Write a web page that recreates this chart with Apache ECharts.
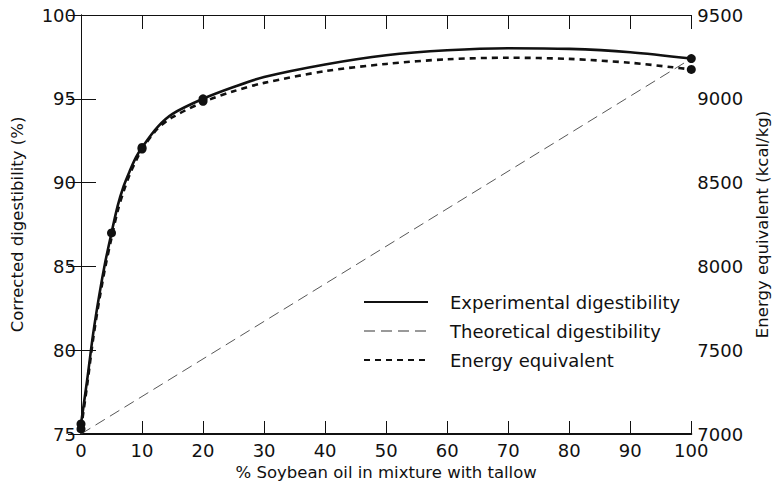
<!DOCTYPE html>
<html>
<head>
<meta charset="utf-8">
<script src="https://cdn.jsdelivr.net/npm/echarts@6/dist/echarts.min.js"></script>
<style>
  html, body { margin: 0; padding: 0; background: #fff; }
  #chart { width: 779px; height: 494px; }
</style>
</head>
<body>
<div id="chart"></div>
<script>
// soybean oil share (%) and curve values
var expX = [0, 1, 2, 3, 4, 5, 6, 7, 8, 9, 10, 12.5, 15, 20, 25, 30, 40, 50, 60, 70, 80, 90, 100];
var expY = [75.6, 78.2, 81.0, 83.3, 85.3, 87.0, 88.6, 89.8, 90.7, 91.5, 92.1, 93.3, 94.1, 95.0, 95.7, 96.3, 97.05, 97.6, 97.9, 98.02, 97.98, 97.78, 97.4];
var expPtsX = [0, 5, 10, 20, 100];
var expPtsY = [75.6, 87.0, 92.1, 95.0, 97.4];

var theoX = [0, 100];
var theoY = [75.0, 97.4];

var enX = [0, 1, 2, 3, 4, 5, 6, 7, 8, 9, 10, 12.5, 15, 20, 25, 30, 40, 50, 60, 70, 80, 90, 97, 100];
var enY = [7030, 7290, 7570, 7800, 8000, 8170, 8330, 8450, 8550, 8630, 8700, 8820, 8890, 8980, 9045, 9095, 9165, 9208, 9236, 9245, 9238, 9215, 9188, 9175];
var enPtsX = [0, 10, 20, 100];
var enPtsY = [7030, 8700, 8985, 9175];

var names = ['Experimental digestibility', 'Theoretical digestibility', 'Energy equivalent'];

function pairs(xs, ys) {
  return xs.map(function(x, i) { return [x, ys[i]]; });
}

var font = 'DejaVu Sans';
var ink = '#111';

var chart = echarts.init(document.getElementById('chart'), null, { renderer: 'svg' });
chart.setOption({
  animation: false,
  textStyle: { fontFamily: font, color: ink },
  grid: { left: 81, right: 83, top: 15, bottom: 60 },
  legend: {
    orient: 'vertical',
    left: 358,
    top: 288,
    itemWidth: 64,
    itemHeight: 14,
    itemGap: 11,
    itemStyle: { opacity: 0 },
    data: [
      { name: names[0] },
      { name: names[1], lineStyle: { color: '#999' } },
      { name: names[2] }
    ],
    textStyle: { fontFamily: font, fontSize: 18, color: ink, padding: [0, 0, 0, 17] }
  },
  xAxis: [
    {
      type: 'value', min: 0, max: 100, interval: 10,
      name: '% Soybean oil in mixture with tallow',
      nameLocation: 'middle', nameGap: 29,
      nameTextStyle: { fontFamily: font, fontSize: 16.5, color: ink },
      axisLine: { lineStyle: { color: ink, width: 2 } },
      axisTick: { inside: true, length: 13, lineStyle: { color: ink, width: 1 } },
      axisLabel: { fontFamily: font, fontSize: 18, color: ink, margin: 7, showMinLabel: true, showMaxLabel: true },
      splitLine: { show: false }
    },
    {
      type: 'value', position: 'top', min: 0, max: 100, interval: 10,
      axisLine: { lineStyle: { color: ink, width: 1 } },
      axisTick: { inside: true, length: 14, lineStyle: { color: ink, width: 1 } },
      axisLabel: { show: false },
      splitLine: { show: false }
    }
  ],
  yAxis: [
    {
      type: 'value', min: 75, max: 100, interval: 5,
      name: 'Corrected digestibility (%)',
      nameLocation: 'middle', nameGap: 55, nameRotate: 90,
      nameTextStyle: { fontFamily: font, fontSize: 16.5, color: ink },
      axisLine: { show: true, lineStyle: { color: ink, width: 1 } },
      axisTick: { show: true, inside: true, length: 15, lineStyle: { color: ink, width: 1 } },
      axisLabel: { fontFamily: font, fontSize: 18, color: ink, margin: 5 },
      splitLine: { show: false }
    },
    {
      type: 'value', position: 'right', min: 7000, max: 9500, interval: 500,
      name: 'Energy equivalent (kcal/kg)',
      nameLocation: 'middle', nameGap: 61, nameRotate: 90,
      nameTextStyle: { fontFamily: font, fontSize: 16.5, color: ink },
      axisLine: { show: true, lineStyle: { color: ink, width: 1 } },
      axisTick: { show: true, inside: true, length: 13, lineStyle: { color: ink, width: 1 } },
      axisLabel: { fontFamily: font, fontSize: 18, color: ink, margin: 6, formatter: function(v) { return String(v); } },
      splitLine: { show: false }
    }
  ],
  series: [
    {
      name: names[0], type: 'line', xAxisIndex: 0, yAxisIndex: 0,
      data: pairs(expX, expY), smooth: 0.3, symbol: 'none',
      lineStyle: { color: ink, width: 2.6, type: 'solid' },
      itemStyle: { color: ink }, z: 4
    },
    {
      name: names[1], type: 'line', xAxisIndex: 0, yAxisIndex: 0,
      data: pairs(theoX, theoY), symbol: 'none',
      lineStyle: { color: '#444', width: 0.9, type: [11, 6] },
      itemStyle: { color: '#999' }, z: 2
    },
    {
      name: names[2], type: 'line', xAxisIndex: 0, yAxisIndex: 1,
      data: pairs(enX, enY), smooth: 0.3, symbol: 'none',
      lineStyle: { color: ink, width: 2.6, type: [6, 5] },
      itemStyle: { color: ink }, z: 3
    },
    {
      type: 'scatter', xAxisIndex: 0, yAxisIndex: 0,
      data: pairs(expPtsX, expPtsY), symbolSize: 9,
      itemStyle: { color: ink, opacity: 1 }, z: 5
    },
    {
      type: 'scatter', xAxisIndex: 0, yAxisIndex: 1,
      data: pairs(enPtsX, enPtsY), symbolSize: 9,
      itemStyle: { color: ink, opacity: 1 }, z: 5
    }
  ]
});
</script>
</body>
</html>
